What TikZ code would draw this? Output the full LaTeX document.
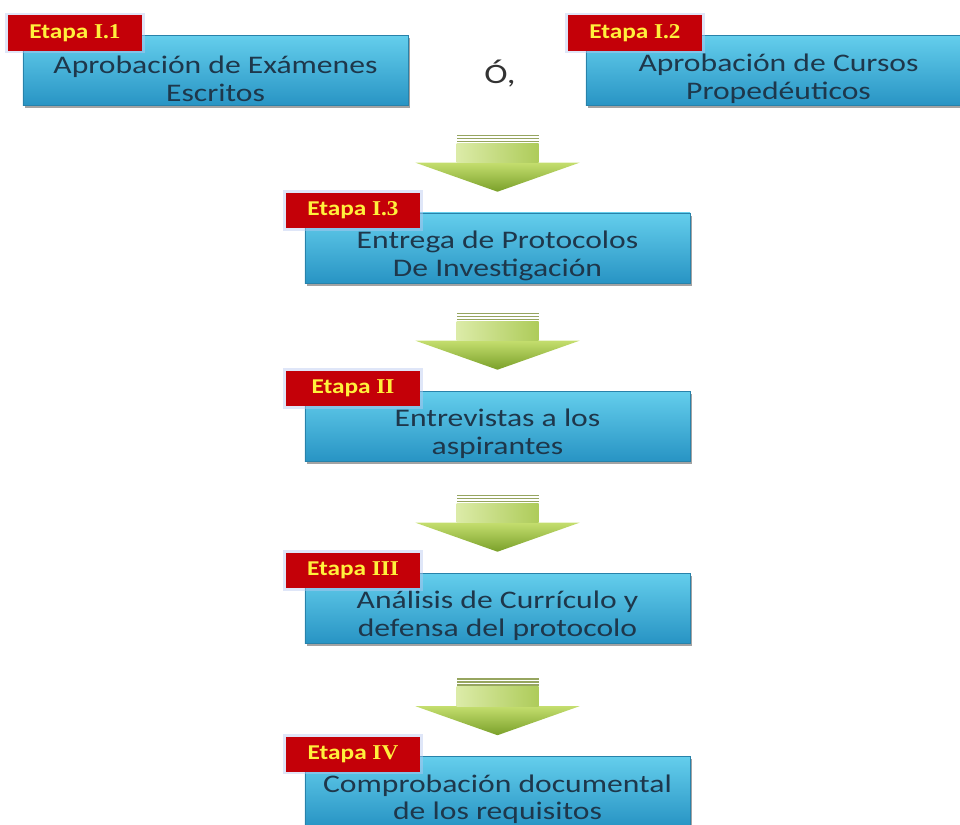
\documentclass[tikz,border=0pt]{standalone}
\usepackage{fontspec}
\setmainfont{Carlito}
\newfontfamily\cajafont[FakeStretch=1.25]{Carlito}
\newfontfamily\etapafont[FakeStretch=1.2]{Carlito}
\newfontfamily\numfont[FakeStretch=1.1]{Liberation Serif}
\usetikzlibrary{shadows,positioning}

\definecolor{cajaarriba}{RGB}{100,206,236}
\definecolor{cajaabajo}{RGB}{40,148,196}
\definecolor{cajaborde}{RGB}{40,130,170}
\definecolor{cajatexto}{RGB}{30,55,75}
\definecolor{rojoetapa}{RGB}{196,0,8}
\definecolor{amarillo}{RGB}{255,240,60}
\definecolor{brillo}{RGB}{185,200,240}
\definecolor{verdeclaro}{RGB}{196,222,110}
\definecolor{verdeoscuro}{RGB}{122,160,42}
\definecolor{verderaya}{RGB}{150,165,95}

\tikzset{
    caja/.style={rectangle, minimum width=9.625cm, minimum height=1.75cm,
        top color=cajaarriba, bottom color=cajaabajo, draw=cajaborde, thin,
        drop shadow={shadow xshift=1.5pt, shadow yshift=-2pt, fill=black!60, opacity=.6}},
    cajatxt/.style={text=cajatexto, align=center, inner sep=0pt,
        font=\cajafont\fontsize{18}{19.5}\selectfont},
    etapa/.style={rectangle, fill=rojoetapa, minimum width=3.35cm, minimum height=0.875cm,
        preaction={draw=brillo, line width=4pt, opacity=.45},
        text=amarillo, anchor=north west, font=\etapafont\bfseries\fontsize{15}{17}\selectfont},
    flecha/.pic={
        \shade[top color=verdeclaro, bottom color=verdeoscuro]
            (0,0) -- (-82,-29) -- (41,-29) -- (82,-29) -- cycle;
        \shade[left color=verdeclaro!60!white, right color=verdeclaro!70!verdeoscuro]
            (-41,-48.5) rectangle (41,-29);
        \foreach \r in {-57,-54,-51}
            \fill[verderaya] (-41,\r) rectangle (41,\r+1.4);
    }
}

\begin{document}
\begin{tikzpicture}[x=0.025cm, y=-0.025cm]
    \useasboundingbox (0,0) rectangle (960,824);

    % etapas I.1 y I.2
    \node[caja] (p1) at (215.5,70.5) {};
    \node[cajatxt] (t1) at ([yshift=-6pt]p1.center) {Aprobación de Exámenes\\Escritos};
    \node[caja] (p2) at (778.5,70.5) {};
    \node[cajatxt] (t2) at ([yshift=-6pt]p2.center) {Aprobación de Cursos\\Propedéuticos};
    \node[etapa] (e1) at ([shift={(-15,-20)}]p1.north west) {Etapa {\numfont I.1}};
    \node[etapa] (e2) at ([shift={(-18,-20)}]p2.north west) {Etapa {\numfont I.2}};
    \node[text=black!80, font=\cajafont\fontsize{20}{22}\selectfont] (o) at (500,74) {Ó,};

    % etapas siguientes
    \foreach \i/\y/\txt/\et in {3/248/{Entrega de Protocolos\\De Investigación}/{I.3},
                                4/426/{Entrevistas a los\\aspirantes}/{II},
                                5/608/{Análisis de Currículo y\\defensa del protocolo}/{III},
                                6/791.5/{Comprobación documental\\de los requisitos}/{IV}}
    {
        \node[caja] (p\i) at (497.5,\y) {};
        \node[cajatxt] (t\i) at ([yshift=-5.5pt]p\i.center) {\txt};
        \node[etapa] (e\i) at ([shift={(-19,-20)}]p\i.north west) {Etapa {\numfont\et}};
        \pic at ([shift={(0,-21)}]p\i.north) {flecha};
    }

\end{tikzpicture}
\end{document}
